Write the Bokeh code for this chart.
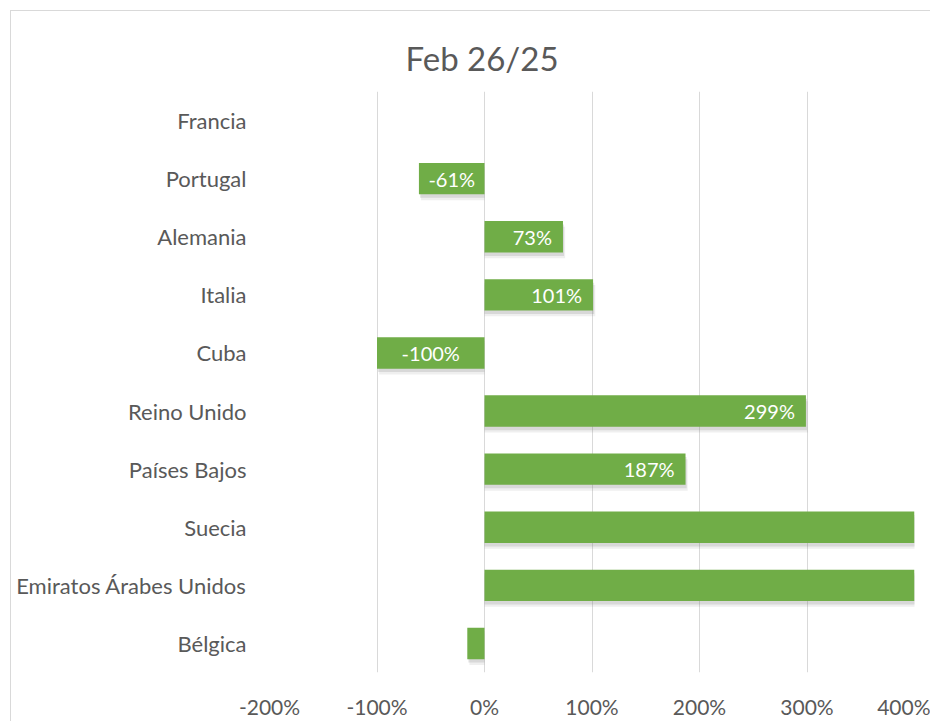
import pandas as pd
from bokeh.plotting import figure
from bokeh.models import (ColumnDataSource, FactorRange, Range1d, FixedTicker,
                          PrintfTickFormatter)
from bokeh.transform import dodge
from bokeh.core.properties import value
from bokeh.embed import file_html
from bokeh.resources import INLINE

# ---- data -------------------------------------------------------------
title_text = "Feb 26/25"
countries = ["Francia", "Portugal", "Alemania", "Italia", "Cuba",
             "Reino Unido", "Países Bajos", "Suecia",
             "Emiratos Árabes Unidos", "Bélgica"]
values = [None, -61, 73, 101, -100, 299, 187, 500, 600, -16]
x_ticks = [-200, -100, 0, 100, 200, 300, 400]

# ---- styling ----------------------------------------------------------
GREEN = "#70AD47"
TEXT = "#595959"
GRID = "#D9D9D9"
FONT = "Lato"

df = pd.DataFrame({"country": countries, "val": values})
df["val"] = df["val"].astype(float)
df = df.dropna()
df["label"] = df["val"].map(lambda v: f"{v:.0f}%")
df["mid"] = df["val"] / 2.0

xmin, xmax = x_ticks[0], x_ticks[-1]
src = ColumnDataSource(df)
lab = df[(df["val"] <= xmax) & (df["val"] >= xmin)]
pos_src = ColumnDataSource(lab[lab["val"] > 0])
neg_fit_src = ColumnDataSource(lab[lab["val"] <= -40])
neg_small_src = ColumnDataSource(lab[(lab["val"] < 0) & (lab["val"] > -40)])

p = figure(width=930, height=721,
           y_range=FactorRange(*countries[::-1]),
           x_range=Range1d(xmin, xmax),
           output_backend="svg", toolbar_location=None,
           min_border_left=269, min_border_right=16,
           min_border_top=91, min_border_bottom=47)
p.border_fill_alpha = 0
p.background_fill_color = "white"
p.styles = {
    "background": ("linear-gradient(#D9D9D9,#D9D9D9) 10px 10px / 1px 100% no-repeat, "
                   "linear-gradient(#D9D9D9,#D9D9D9) 10px 10px / 100% 1px no-repeat, white"),
}

# shadow layers
p.hbar(y=dodge("country", -0.10, range=p.y_range), left=dodge("val", 2, range=p.x_range),
       right=0, height=0.54, source=src, fill_color="#7F7F7F", fill_alpha=0.12,
       line_color=None)
p.hbar(y=dodge("country", -0.06, range=p.y_range), left=dodge("val", 1, range=p.x_range),
       right=0, height=0.54, source=src, fill_color="#7F7F7F", fill_alpha=0.2,
       line_color=None)
# bars
p.hbar(y="country", left=0, right="val", height=0.54, source=src,
       fill_color=GREEN, line_color=None)

# labels
lab_kw = dict(text="label", text_baseline="middle", text_color="white",
              text_font=value(FONT), text_font_size="20px")
p.text(x="val", y="country", source=pos_src, text_align="right", x_offset=-11, **lab_kw)
p.text(x="mid", y="country", source=neg_fit_src, text_align="center", **lab_kw)
p.text(x="val", y="country", source=neg_small_src, text_align="right", x_offset=-3, **lab_kw)

# title
p.title.text = title_text
p.title.text_font = FONT
p.title.text_font_size = "33px"
p.title.text_font_style = "normal"
p.title.text_color = TEXT
p.title.align = "left"
p.title.offset = 136
p.title.standoff = 28

# axes / grid
p.outline_line_color = None
p.ygrid.grid_line_color = None
p.xgrid.grid_line_color = GRID
p.xaxis.ticker = FixedTicker(ticks=x_ticks)
p.xaxis.formatter = PrintfTickFormatter(format="%d%%")
for ax in (p.xaxis, p.yaxis):
    ax.axis_line_color = None
    ax.major_tick_line_color = None
    ax.minor_tick_line_color = None
    ax.major_tick_out = 0
    ax.major_tick_in = 0
    ax.minor_tick_out = 0
    ax.major_label_text_font = FONT
    ax.major_label_text_color = TEXT
p.yaxis.major_label_text_font_size = "22px"
p.xaxis.major_label_text_font_size = "21px"
p.yaxis.major_label_standoff = 23
p.xaxis.major_label_standoff = 21

open("out.html", "w").write(file_html(p, INLINE))
